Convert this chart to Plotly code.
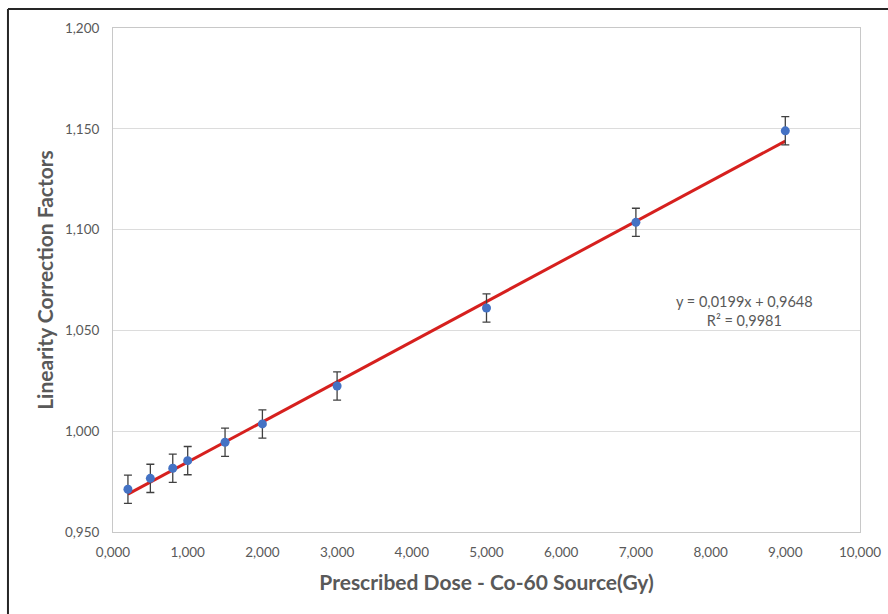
import plotly.graph_objects as go

# Measured linearity correction factors vs prescribed dose
dose = [0.2, 0.5, 0.8, 1.0, 1.5, 2.0, 3.0, 5.0, 7.0, 9.0]
factor = [0.9712, 0.9766, 0.9816, 0.9854, 0.9945, 1.0036, 1.0224, 1.0611, 1.1036, 1.1490]
factor_err = [0.007, 0.007, 0.007, 0.007, 0.007, 0.007, 0.007, 0.007, 0.007, 0.007]

# Linear trendline coefficients
slope = 0.0199
intercept = 0.9648
r_squared = 0.9981

x_ticks = [0, 1, 2, 3, 4, 5, 6, 7, 8, 9, 10]
x_tick_labels = ["0,000", "1,000", "2,000", "3,000", "4,000", "5,000",
                 "6,000", "7,000", "8,000", "9,000", "10,000"]
y_ticks = [0.95, 1.0, 1.05, 1.1, 1.15, 1.2]
y_tick_labels = ["0,950", "1,000", "1,050", "1,100", "1,150", "1,200"]

font_family = "Lato, 'Open Sans', sans-serif"
grey = "#595959"

fit_x = [dose[0], dose[-1]]
fit_y = [slope * v + intercept for v in fit_x]

fig = go.Figure()

fig.add_trace(go.Scatter(
    x=fit_x, y=fit_y, mode="lines",
    line=dict(color="#d6201e", width=3),
    hoverinfo="skip", showlegend=False,
))

fig.add_trace(go.Scatter(
    x=dose, y=factor, mode="markers",
    marker=dict(color="#4472c4", size=9),
    error_y=dict(type="data", array=factor_err, visible=True,
                 color="#404040", thickness=1.3, width=4),
    showlegend=False,
))

eq_text = "y = {:.4f}x + {:.4f}<br>R² = {:.4f}".format(slope, intercept, r_squared).replace(".", ",")
fig.add_annotation(
    x=0.845, y=0.438, xref="paper", yref="paper",
    xanchor="center", yanchor="middle",
    text=eq_text,
    showarrow=False, align="center",
    font=dict(family=font_family, size=14.5, color=grey),
)

# Outer frame lines on the left and top edges
fig.add_shape(type="line", xref="paper", yref="paper",
              x0=-0.1406, x1=-0.1406, y0=-0.17, y1=1.0377,
              line=dict(color="#262626", width=2))
fig.add_shape(type="line", xref="paper", yref="paper",
              x0=-0.1406, x1=1.04, y0=1.0377, y1=1.0377,
              line=dict(color="#262626", width=2))

fig.update_layout(
    width=888, height=614,
    margin=dict(l=113, r=28, t=28, b=82),
    paper_bgcolor="white", plot_bgcolor="white",
    font=dict(family=font_family, color=grey),
    xaxis=dict(
        range=[0, 10], tickvals=x_ticks, ticktext=x_tick_labels,
        showgrid=False, zeroline=False, automargin=False,
        showline=True, linecolor="#c8c8c8", linewidth=1, mirror=True,
        ticks="", ticklabelstandoff=8,
        tickfont=dict(size=13.5, color=grey),
        title=dict(text="<b>Prescribed Dose - Co-60 Source(Gy)</b>",
                   font=dict(size=21, color=grey), standoff=16),
    ),
    yaxis=dict(
        range=[0.95, 1.2], tickvals=y_ticks, ticktext=y_tick_labels,
        showgrid=True, gridcolor="#dcdcdc", gridwidth=1, zeroline=False,
        showline=True, linecolor="#c8c8c8", linewidth=1, mirror=True,
        ticks="", ticklabelstandoff=10,
        tickfont=dict(size=13.5, color=grey),
        title=dict(text="<b>Linearity Correction Factors</b>",
                   font=dict(size=21, color=grey), standoff=5),
    ),
)

fig.write_html("out.html")
